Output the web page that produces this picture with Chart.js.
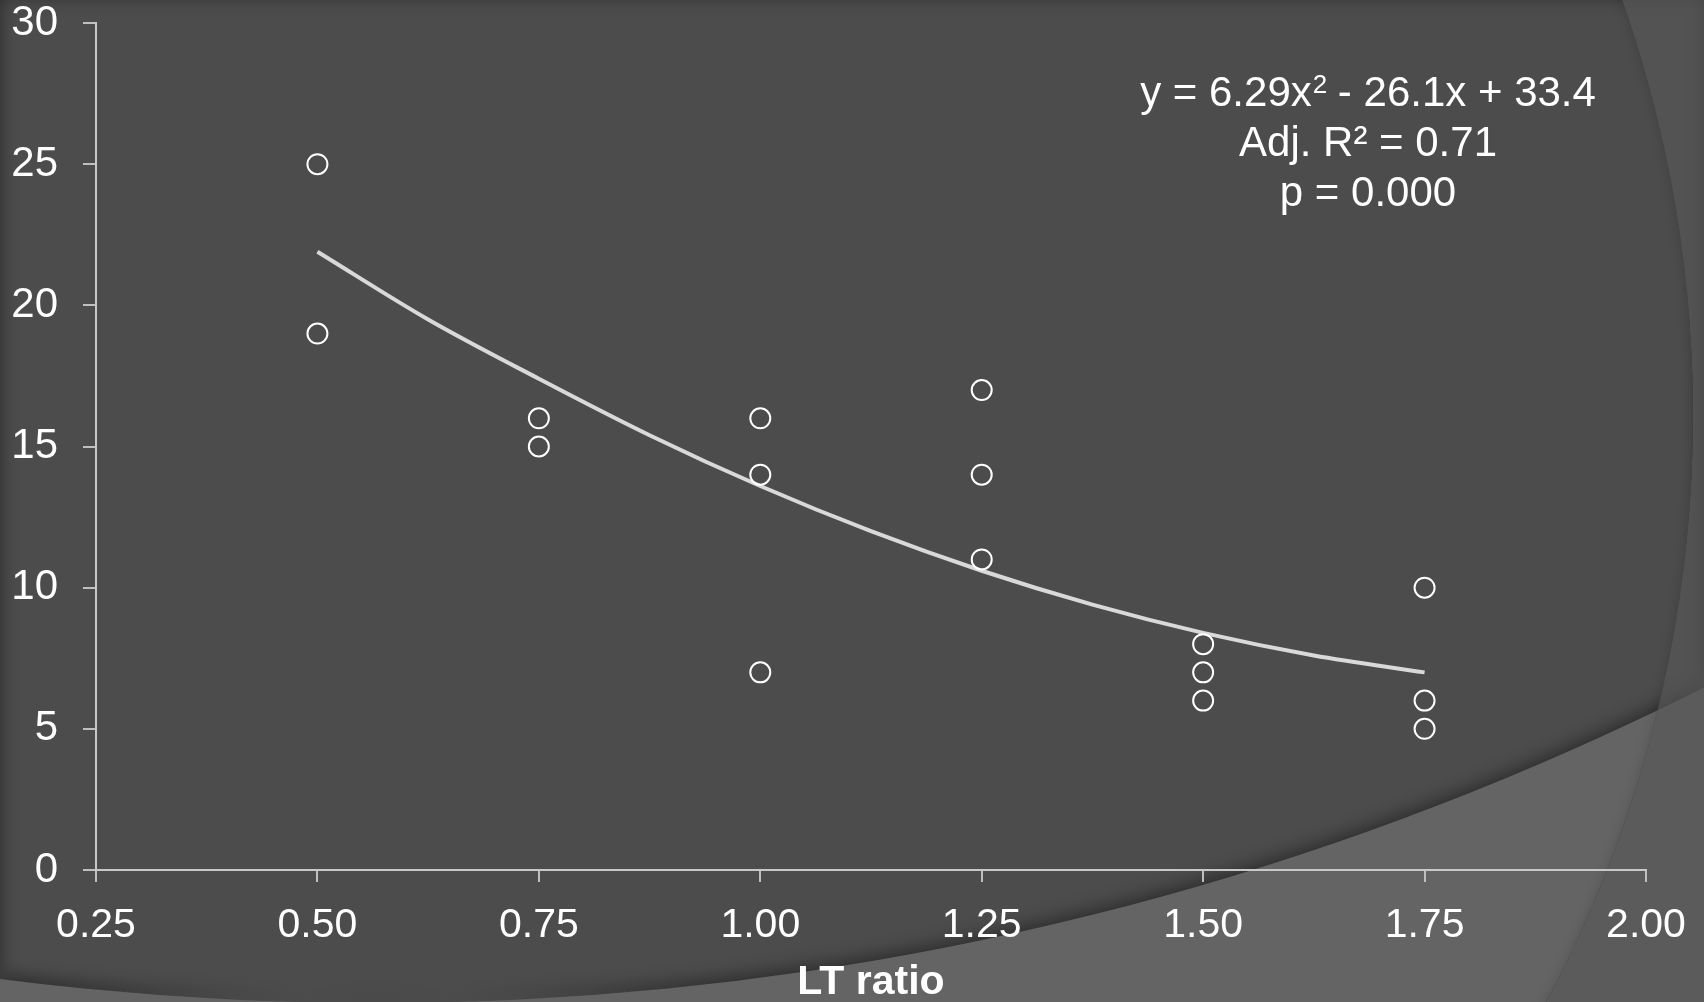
<!DOCTYPE html>
<html>
<head>
<meta charset="utf-8">
<script src="https://cdn.jsdelivr.net/npm/chart.js@4.4.1/dist/chart.umd.min.js"></script>
<style>
    html, body { margin: 0; padding: 0; background: #4d4d4d; overflow: hidden; }
</style>
</head>
<body>
<canvas id="myChart" width="1704" height="1002"></canvas>
<script>
// observed points: LT ratio vs value
const ltRatio = [0.50, 0.50, 0.75, 0.75, 1.00, 1.00, 1.00, 1.25, 1.25, 1.25, 1.50, 1.50, 1.50, 1.75, 1.75, 1.75];
const observed = [25, 19, 16, 15, 16, 14, 7, 17, 14, 11, 8, 7, 6, 10, 6, 5];

// fitted curve
const fitX = [0.5, 0.625, 0.75, 0.875, 1.0, 1.125, 1.25, 1.375, 1.5, 1.625, 1.75];
const fitY = [21.9, 19.5, 17.4, 15.4, 13.6, 12.0, 10.6, 9.4, 8.4, 7.6, 7.0];

const xTicks = [0.25, 0.50, 0.75, 1.00, 1.25, 1.50, 1.75, 2.00];
const yTicks = [0, 5, 10, 15, 20, 25, 30];

const xTitle = 'LT ratio';
const fitEquation = ['y = 6.29x', '2', ' - 26.1x + 33.4'];
const fitStats = ['Adj. R² = 0.71', 'p = 0.000'];

const FONT = '"Liberation Sans", Arial, sans-serif';

// slide background with the theme arcs
const backgroundPlugin = {
    id: 'slideBackground',
    beforeDraw(chart) {
        const ctx = chart.ctx;
        const w = chart.width, h = chart.height;
        ctx.save();
        ctx.fillStyle = '#4c4c4c';
        ctx.fillRect(0, 0, w, h);

        // lighter swoosh at the bottom right
        ctx.save();
        ctx.beginPath();
        ctx.rect(0, 0, w, h);
        ctx.arc(376, -1949, 2952, 0, Math.PI * 2, true);
        ctx.shadowColor = 'rgba(0,0,0,0.45)';
        ctx.shadowBlur = 18;
        ctx.shadowOffsetY = -4;
        ctx.fillStyle = '#646464';
        ctx.fill('evenodd');
        ctx.restore();

        // big ring on the right
        ctx.save();
        ctx.beginPath();
        ctx.rect(0, 0, w, h);
        ctx.arc(445, 415, 1248, 0, Math.PI * 2, true);
        ctx.clip('evenodd');
        ctx.fillStyle = 'rgba(86,86,86,0.67)';
        ctx.fillRect(0, 0, w, h);
        ctx.restore();

        ctx.save();
        ctx.beginPath();
        ctx.arc(445, 415, 1248, 0, Math.PI * 2);
        ctx.clip();
        ctx.beginPath();
        ctx.arc(445, 415, 1252, 0, Math.PI * 2);
        ctx.strokeStyle = 'rgba(0,0,0,0.35)';
        ctx.lineWidth = 8;
        ctx.shadowColor = 'rgba(0,0,0,0.5)';
        ctx.shadowBlur = 12;
        ctx.stroke();
        ctx.restore();

        ctx.restore();
    }
};

// regression text in the upper right
const equationPlugin = {
    id: 'fitEquation',
    afterDraw(chart) {
        const ctx = chart.ctx;
        const cx = 1368;
        ctx.save();
        ctx.fillStyle = '#ffffff';
        ctx.textBaseline = 'alphabetic';

        const big = '42px ' + FONT;
        const small = '26px ' + FONT;
        ctx.font = big;
        const w1 = ctx.measureText(fitEquation[0]).width;
        const w3 = ctx.measureText(fitEquation[2]).width;
        ctx.font = small;
        const w2 = ctx.measureText(fitEquation[1]).width;
        let x = cx - (w1 + w2 + w3) / 2;
        ctx.textAlign = 'left';
        ctx.font = big;
        ctx.fillText(fitEquation[0], x, 106);
        x += w1;
        ctx.font = small;
        ctx.fillText(fitEquation[1], x + 1, 93);
        x += w2;
        ctx.font = big;
        ctx.fillText(fitEquation[2], x, 106);

        ctx.textAlign = 'center';
        fitStats.forEach((line, i) => {
            ctx.fillText(line, cx, 156 + i * 50);
        });
        ctx.restore();
    }
};

const ctx = document.getElementById('myChart').getContext('2d');

const data = {
    datasets: [
        {
            type: 'scatter',
            label: 'Observed',
            data: ltRatio.map((x, i) => ({ x: x, y: observed[i] })),
            pointRadius: 10,
            pointHoverRadius: 10,
            pointBorderWidth: 2,
            pointBorderColor: '#ffffff',
            pointBackgroundColor: 'rgba(0,0,0,0)',
            showLine: false
        },
        {
            type: 'line',
            label: 'Fit',
            data: fitX.map((x, i) => ({ x: x, y: fitY[i] })),
            borderColor: '#d9d9d9',
            borderWidth: 4,
            pointRadius: 0,
            tension: 0.4,
            cubicInterpolationMode: 'monotone',
            fill: false
        }
    ]
};

const config = {
    data: data,
    options: {
        responsive: false,
        animation: false,
        devicePixelRatio: 1,
        layout: {
            padding: { top: 23, right: 58, left: 0, bottom: 0 }
        },
        plugins: {
            legend: { display: false },
            tooltip: { enabled: false }
        },
        scales: {
            x: {
                type: 'linear',
                min: 0.25,
                max: 2.0,
                afterBuildTicks: (scale) => { scale.ticks = xTicks.map(v => ({ value: v })) },
                afterFit: (scale) => {
                    scale.height = 132
                    scale.paddingLeft = 0
                    scale.paddingRight = 0
                },
                ticks: {
                    color: '#ffffff',
                    padding: 19,
                    font: { family: FONT, size: 41 },
                    callback: (v) => Number(v).toFixed(2)
                },
                grid: {
                    drawOnChartArea: false,
                    drawTicks: true,
                    tickLength: 12,
                    color: '#bfbfbf',
                    lineWidth: 2
                },
                border: { display: true, color: '#c8c8c8', width: 2 },
                title: {
                    display: true,
                    text: xTitle,
                    color: '#ffffff',
                    padding: 0,
                    font: { family: FONT, size: 41, weight: 'bold', lineHeight: 0.92 }
                }
            },
            y: {
                type: 'linear',
                min: 0,
                max: 30,
                afterBuildTicks: (scale) => { scale.ticks = yTicks.map(v => ({ value: v })) },
                afterFit: (scale) => {
                    scale.width = 96
                    scale.paddingTop = 0
                    scale.paddingBottom = 0
                },
                ticks: {
                    color: '#ffffff',
                    padding: 25,
                    font: { family: FONT, size: 42 }
                },
                grid: {
                    drawOnChartArea: false,
                    drawTicks: true,
                    tickLength: 13,
                    color: '#bfbfbf',
                    lineWidth: 2
                },
                border: { display: true, color: '#c8c8c8', width: 2 }
            }
        }
    },
    plugins: [backgroundPlugin, equationPlugin]
};

const myChart = new Chart(ctx, config);
</script>
</body>
</html>
